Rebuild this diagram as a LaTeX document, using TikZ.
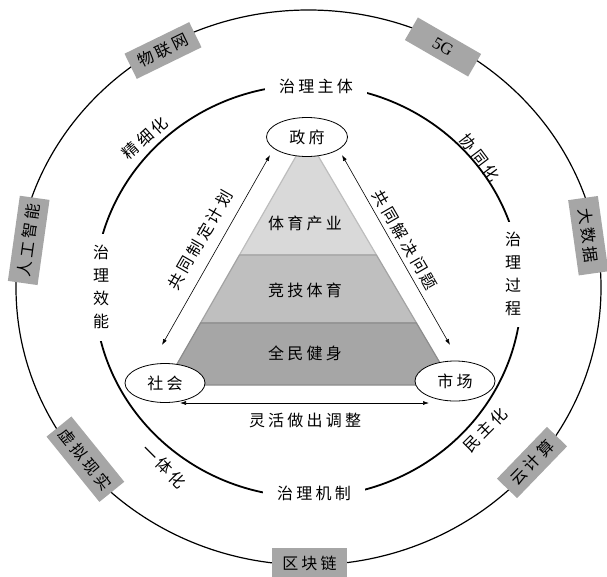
\documentclass[tikz,border=0pt]{standalone}
\usepackage{fontspec}
\setmainfont{Liberation Serif}
\newfontfamily\cjk[LetterSpace=20]{Noto Sans CJK SC}
\usetikzlibrary{shapes.geometric,arrows.meta,calc}
\definecolor{boxgray}{HTML}{A6A6A6}
\definecolor{layA}{HTML}{D9D9D9}
\definecolor{layB}{HTML}{BFBFBF}
\definecolor{layC}{HTML}{A6A6A6}
\definecolor{edgeA}{HTML}{BDBDBD}
\definecolor{edgeB}{HTML}{A3A3A3}
\definecolor{edgeC}{HTML}{8C8C8C}
\begin{document}
\begin{tikzpicture}[x=1pt,y=-1pt,
  txt/.style={font=\cjk\fontsize{16}{23}\selectfont, inner sep=0pt},
  tag/.style={txt, fill=boxgray},
  oval/.style={txt, ellipse, draw, fill=white, line width=0.8pt},
  gapl/.style={txt, fill=white, align=center},
  arr/.style={{Latex[length=6pt,width=4pt]}-{Latex[length=6pt,width=4pt]}, line width=0.6pt}
]
\useasboundingbox (0,0) rectangle (607,576);

% outer ring
\draw[line width=1.2pt] (308.5,287.5) ellipse [x radius=292.5, y radius=277.5];
% inner ring
\draw[line width=1.8pt] (308,291) ellipse [x radius=213.5, y radius=206];

% pyramid
\coordinate (A) at (307,137);
\coordinate (B) at (165,385);
\coordinate (C) at (453,385);
\coordinate (B1) at ($(A)!0.4758!(B)$);
\coordinate (C1) at ($(A)!0.4758!(C)$);
\coordinate (B2) at ($(A)!0.75!(B)$);
\coordinate (C2) at ($(A)!0.75!(C)$);
\filldraw[fill=layA, draw=edgeA, line width=1.2pt, line join=round] (A) -- (B1) -- (C1) -- cycle;
\filldraw[fill=layB, draw=edgeB, line width=1.2pt, line join=round] (B1) -- (B2) -- (C2) -- (C1) -- cycle;
\filldraw[fill=layC, draw=edgeC, line width=1.2pt, line join=round] (B2) -- (B) -- (C) -- (C2) -- cycle;

\node[txt] (l1) at (305,223) {体育产业};
\node[txt] (l2) at (305,290) {竞技体育};
\node[txt] (l3) at (305,353) {全民健身};

% actors
\node[oval, minimum width=81pt, minimum height=39pt] (zf) at (307,137) {政府};
\node[oval, minimum width=80pt, minimum height=39pt] (sh) at (165,383) {社会};
\node[oval, minimum width=80pt, minimum height=40pt] (sc) at (455,381) {市场};

% arrows
\draw[arr] ([shift={(-37,18)}]zf.center) -- ([shift={(-3,-38)}]sh.center);
\draw[arr] ([shift={(35,18)}]zf.center) -- ([shift={(-5,-36)}]sc.center);
\draw[arr] ([shift={(15,20)}]sh.center) -- ([shift={(-26,22)}]sc.center);
\node[txt, rotate=60] (t1) at (200,240) {共同制定计划};
\node[txt, rotate=-60] (t2) at (405,240) {共同解决问题};
\node[txt] (t3) at (305,420) {灵活做出调整};

% inner ring labels
\node[gapl, minimum width=102pt, minimum height=20pt] (zt) at (316,86) {治理主体};
\node[gapl, minimum width=102pt, minimum height=20pt] (zj) at (314,493) {治理机制};
\node[gapl, minimum width=24pt, minimum height=107pt] (zx) at (101,287) {治\\理\\效\\能};
\node[gapl, minimum width=26pt, minimum height=105pt] (zg) at (513,274) {治\\理\\过\\程};

% between rings
\node[txt, rotate=42] (m1) at (145,138) {精细化};
\node[txt, rotate=-53] (m2) at (480,158) {协同化};
\node[txt, rotate=-45] (m3) at (164,466) {一体化};
\node[txt, rotate=45] (m4) at (485,430) {民主化};

% technology tags
\node[tag, minimum width=72pt, minimum height=28pt, rotate=26] (b1) at (163,50.5) {物联网};
\node[tag, minimum width=73pt, minimum height=26pt, rotate=-30, font=\rmfamily\fontsize{17}{20}\selectfont] (b2) at (443,47) {5G};
\node[tag, minimum width=86pt, minimum height=30pt, rotate=82] (b3) at (28.7,240.4) {人工智能};
\node[tag, minimum width=76pt, minimum height=30pt, rotate=-82] (b4) at (588.3,235.7) {大数据};
\node[tag, minimum width=84pt, minimum height=32pt, rotate=-51] (b5) at (85.4,459.2) {虚拟现实};
\node[tag, minimum width=72pt, minimum height=28pt, rotate=46] (b6) at (532,462.5) {云计算};
\node[tag, minimum width=75pt, minimum height=30pt] (b7) at (309.5,563) {区块链};
\end{tikzpicture}
\end{document}
